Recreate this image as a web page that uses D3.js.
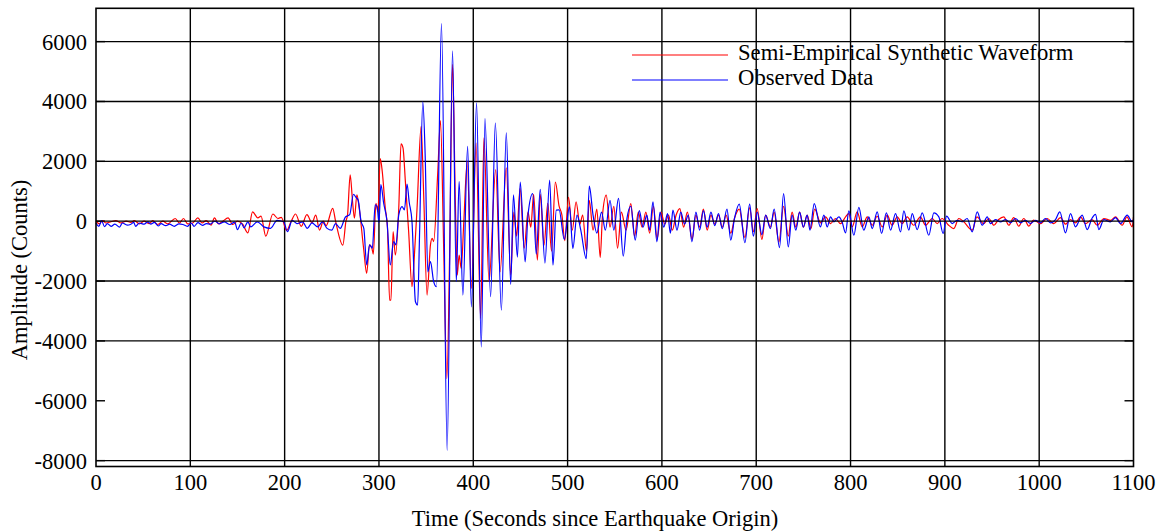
<html>
<head>
<script src="https://d3js.org/d3.v7.min.js"></script>
<style>
  body { margin: 0; background: white; }
  text { font-family: "Liberation Serif", "Times New Roman", serif; fill: #000; }
</style>
</head>
<body>
<svg width="1164" height="531"></svg>
<script>
var obsT = [0,3,6,9,12,16,20,25,28,33,37,40,42,46,51,55,58,62,66,69,74,78,83,88,92,97,101,104,108,113,117,121,126,131,136,142,147,150,154,157,161,
  164,171,178,185,192,199,203,208,213,219,224,229,235,240,245,250,254,259,264.5,269,273,275.5,278,281,284,287,290,293,296,298,300,302,305,308.5,
  312,315.6,318,321,324.5,327,329.8,332,335,338.7,341,343,346.5,349,351.8,354.6,358,361,366.3,372.3,378,382,385,389,394,398,403.5,408.5,412.4,
  418.4,423.4,429.8,435,439.7,442.6,446.8,449.8,455,458,463,466.8,471,476,481,484.5,488,491,496.5,502,505.6,510,514,519.8,523,527,531,536,540,
  545,549,554,559,563,567,571.7,576,580,584,587,590.5,594.7,598,602,606,609,611.7,616,620,624,628,631.8,636,640,644,648,652,656,660,664,669,673,
  677,682,688,693,697,701,706,710,715,719,724.7,729,734,738,742,746,750,754,757,761.5,768,771.7,775.3,778.8,782.3,787.6,791,794.7,798.2,803.5,
  808.8,814,819.4,823,828.3,832.9,838,842.4,847.7,853,856.5,861.8,865.4,870.7,876,883,888.3,893.6,898.2,901.8,907.8,913,918.4,923.7,929,934.3,
  939.6,944.9,948.4,953.7,959,964.3,969.6,974.9,980.2,985.5,990.8,996,1001.4,1006.7,1012,1017.3,1021.9,1027.9,1033.2,1038.5,1045.6,1050.9,
  1056,1059.7,1063.3,1068.6,1075.6,1081,1086.2,1093.3,1098.6,1100];
var obsV = [-60,-170,20,-180,-80,-170,-100,-200,-60,-130,-100,-40,-170,-60,-100,-20,-100,-40,-160,-80,-150,-100,-170,-90,-110,-170,-60,-170,-50,-140,-80,-100,0,-90,-20,-110,-30,-280,-60,-220,-20,
  -190,-20,-190,-240,30,-20,-350,30,-80,-20,-240,-55,-190,-20,-240,-300,-80,-240,140,220,900,800,700,0,-250,-1460,-790,-900,550,500,-50,1220,600,0,
  -1460,-680,-790,210,490,380,1240,650,0,-2690,-2800,-500,3990,2200,-1690,-1350,-2020,-2190,6600,-7660,5690,-2020,1330,-2470,2500,-2860,3950,-4200,3430,
  -2520,3280,-2970,2950,-2110,880,-1200,1310,-1360,200,920,-1100,1060,-1400,1370,-1470,370,380,-610,480,-910,200,-300,-1250,1170,200,-400,300,-300,
  700,-300,760,-1170,100,500,-630,350,-200,200,-300,650,-690,300,-200,250,-400,370,-300,300,-100,200,-690,300,-300,350,-200,300,-150,250,-250,400,-630,
  100,570,-720,570,-500,300,-450,200,-250,400,-880,920,-860,200,-300,300,-200,200,-300,590,-190,200,-190,145,-20,145,-20,-390,345,-470,
  460,-300,145,-245,310,-410,280,-300,255,-360,345,-300,255,-280,280,-470,280,145,-410,170,-80,30,-20,90,-355,310,
  -135,145,-80,55,-20,55,-55,90,-55,30,-80,30,-55,90,-55,55,310,-390,255,-190,200,-280,
  100,230,-280,55,-20,120,-80,200,-20,55];

// semi-empirical synthetic (red) trace
var synT = [0,3.5,7,10.6,16,21,26.5,32,37,40.7,46,51,56.6,60,65.5,70.8,76,84,88.5,92.7,97.3,102.6,108,112.5,116.8,122,125.6,130,134.5,140,145,150,155.7,
  161,166,171.6,175,180,187.5,192.9,196.5,202,207,211.6,217.6,223.6,229,233,237,241,244,251,254,261.7,265,266.7,269.5,272,274,276.6,279,283.7,287,
  290,292.5,294,296.8,298.9,301.4,303.5,306.7,309,311.3,312.7,315,317.4,321,323.4,325.5,328,331.5,335,337.6,340.4,344.7,347.5,351,354.6,356.4,358,
  362.4,365.2,368.7,372,375,378,381,383,385,387.2,390,393.6,398,403,407.8,411.3,416.7,423.8,428.4,435,439.7,443,446,449.6,454,458,461,464,468,471,
  475,479,483,487,491,494,497,501,505,509,513,516,520,523,527,531,534.6,537,541,545,549,553,557,562,567,571,575,579,583,587,591,595,599,603,607,611,
  615,619,623,627,632,636,640,644,648,652,656,660,664,668,673,677,682,688,693,697,701,706,710,715,719,724,729,734,738,742,746,750,754,758,762,768.2,
  773.5,778.8,784,789.4,794.7,798.2,801.8,807,812.4,817.7,823,828.3,833.6,838.9,844,849.5,854.8,860,867,874,879.5,886.6,891.9,897,904,909.5,914.8,
  920,929,934,941,946.6,952,957,962.5,967.8,973,978.4,983.7,989,994,1001.4,1008.5,1015.5,1022.6,1028,1033,1038.5,1043.8,1049,1056,1061.5,1068.6,
  1075.6,1081,1088,1093,1098.6,1100];
var synV = [0,-90,20,-60,-20,20,-60,0,-40,20,-90,0,-80,20,-110,0,-90,90,-60,90,-90,-60,110,-60,20,-130,110,-90,0,110,-110,0,-110,
  -390,310,110,170,-500,240,90,130,-310,0,240,-170,220,-50,200,-300,0,-150,430,0,-800,0,210,1550,660,100,880,450,-900,-1740,
  -790,-900,-1100,600,320,2090,1660,440,-200,-2640,-2640,-350,-1130,440,2580,2450,1330,-350,-2190,-1130,440,3170,800,-2470,-790,-570,-680,
  1660,3360,-1000,-5260,-1000,5240,640,-1800,-1130,-1575,0,2000,-2245,2610,-3250,2780,-2020,1720,-1690,1780,-1800,300,-500,1100,-900,300,-200,900,-1300,900,
  -800,600,-1000,1310,500,200,-650,800,-300,650,-100,200,-1000,700,-300,400,-1210,200,870,-200,500,-900,300,-300,590,-500,300,-200,300,-400,500,-600,300,-100,200,-300,
  200,420,-200,300,-600,200,-200,400,-300,200,-100,200,-200,200,-400,100,400,-550,450,-350,420,-610,200,-200,300,-700,500,-500,300,-200,300,-200,200,-250,400,-55,
  145,-80,90,-80,145,255,-190,310,-190,145,-135,165,-190,200,-135,145,-80,145,-135,145,-135,90,-80,90,-135,-245,90,
  -20,-300,145,-80,90,-135,55,145,-135,120,-165,90,-165,35,-80,90,-80,120,-100,55,-55,145,-80,55,-135,90,
  30,145,-135,145,-190,150];

var xTicks = [0,100,200,300,400,500,600,700,800,900,1000,1100];
var yTicks = [-8000,-6000,-4000,-2000,0,2000,4000,6000];
var xGrid = [100,200,300,400,500,600,700,800,900,1000];
var yGrid = [-8000,-4000,-2000,2000,4000,6000];
var legendLabels = ["Semi-Empirical Synthetic Waveform","Observed Data"];
var legendColors = ["#ff0000","#0000ff"];

var pLeft = 96, pRight = 1133.5, pTop = 8.3, pBottom = 466.5;
var svg = d3.select("svg");
var xs = d3.scaleLinear().domain([0,1100]).range([pLeft,pRight]);
var ys = d3.scaleLinear().domain([-8196,7113]).range([pBottom,pTop]);

// grid
svg.append("g").selectAll("line").data(xGrid).enter().append("line")
  .attr("x1",function(d){return xs(d);}).attr("x2",function(d){return xs(d);})
  .attr("y1",pTop).attr("y2",pBottom)
  .attr("stroke","#000").attr("stroke-width",1.4);
svg.append("g").selectAll("line").data(yGrid).enter().append("line")
  .attr("x1",pLeft).attr("x2",pRight)
  .attr("y1",function(d){return ys(d);}).attr("y2",function(d){return ys(d);})
  .attr("stroke","#000").attr("stroke-width",1.4);
// short ticks on both sides
svg.append("g").selectAll("line").data(yTicks).enter().append("line")
  .attr("x1",pLeft).attr("x2",pLeft+9)
  .attr("y1",function(d){return ys(d);}).attr("y2",function(d){return ys(d);})
  .attr("stroke","#000").attr("stroke-width",1.4);
svg.append("g").selectAll("line").data(yTicks).enter().append("line")
  .attr("x1",pRight-9).attr("x2",pRight)
  .attr("y1",function(d){return ys(d);}).attr("y2",function(d){return ys(d);})
  .attr("stroke","#000").attr("stroke-width",1.4);

// traces
function trace(T, V, col) {
  var pts = T.map(function(t,i){ return [t, V[i]]; });
  svg.append("path").datum(pts)
    .attr("d", d3.line().curve(d3.curveMonotoneX)
      .x(function(d){return xs(d[0]);}).y(function(d){return ys(d[1]);}))
    .attr("fill","none").attr("stroke",col).attr("stroke-width",1.2)
    .attr("stroke-linejoin","round");
}
trace(synT, synV, legendColors[0]);
trace(obsT, obsV, legendColors[1]);

// zero line and frame
svg.append("line").attr("x1",pLeft).attr("x2",pRight).attr("y1",ys(0)).attr("y2",ys(0))
  .attr("stroke","#000").attr("stroke-width",1.3);
svg.append("rect").attr("x",pLeft).attr("y",pTop).attr("width",pRight-pLeft).attr("height",pBottom-pTop)
  .attr("fill","none").attr("stroke","#000").attr("stroke-width",1.6);

// tick labels
svg.append("g").selectAll("text").data(xTicks).enter().append("text")
  .attr("x",function(d){return xs(d);}).attr("y",490)
  .attr("text-anchor","middle").style("font-size","22.5px")
  .text(function(d){return d;});
svg.append("g").selectAll("text").data(yTicks).enter().append("text")
  .attr("x",87).attr("y",function(d){return ys(d)+8;})
  .attr("text-anchor","end").style("font-size","22.5px")
  .text(function(d){return d;});

// axis titles
svg.append("text").attr("x",595).attr("y",526)
  .attr("text-anchor","middle").style("font-size","22.5px")
  .text("Time (Seconds since Earthquake Origin)");
svg.append("text").attr("transform","translate(27,270) rotate(-90)")
  .attr("text-anchor","middle").style("font-size","22.5px")
  .text("Amplitude (Counts)");

// legend
var lg = svg.append("g").selectAll("g").data(legendLabels).enter().append("g")
  .attr("transform",function(d,i){return "translate(0,"+(55+i*25)+")";});
lg.append("line").attr("x1",632).attr("x2",728).attr("y1",0).attr("y2",0)
  .attr("stroke",function(d,i){return legendColors[i];}).attr("stroke-width",1.2);
lg.append("text").attr("x",738).attr("y",5).style("font-size","22.7px")
  .text(function(d){return d;});
</script>
</body>
</html>
